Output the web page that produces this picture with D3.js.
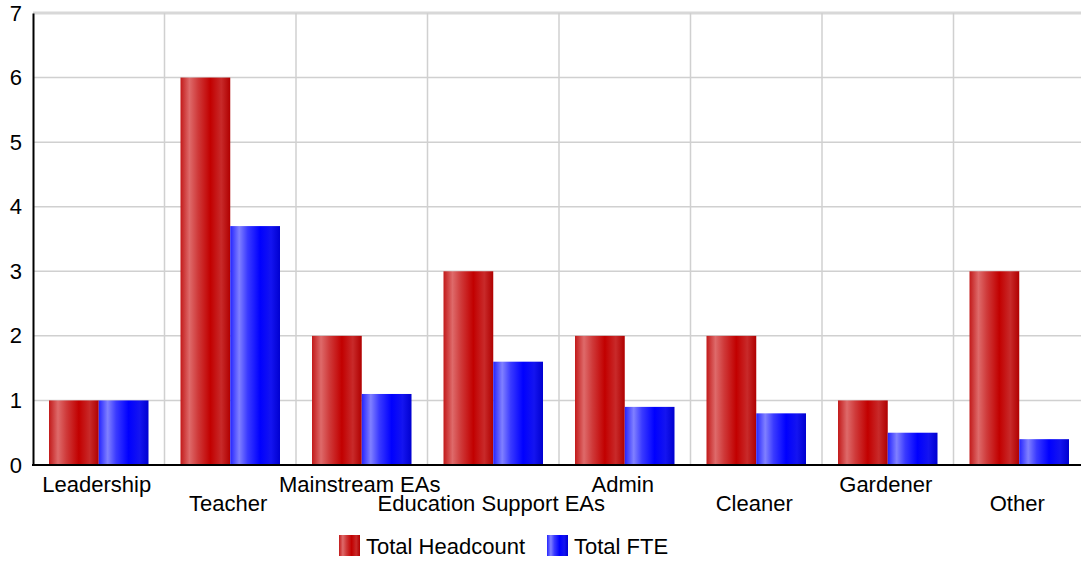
<!DOCTYPE html>
<html>
<head>
<meta charset="utf-8">
<script src="https://cdn.jsdelivr.net/npm/d3@7"></script>
<style>
  html, body { margin: 0; padding: 0; background: #fff; }
  svg { display: block; font-family: "Liberation Sans", Arial, sans-serif; }
</style>
</head>
<body>
<svg id="chart" width="1081" height="562"></svg>
<script>
// Staff roles and their counts
const categories = ["Leadership", "Teacher", "Mainstream EAs", "Education Support EAs", "Admin", "Cleaner", "Gardener", "Other"];
const headcount = [1, 6, 2, 3, 2, 2, 1, 3];
const fte = [1, 3.7, 1.1, 1.6, 0.9, 0.8, 0.5, 0.4];
const seriesNames = ["Total Headcount", "Total FTE"];
const yTicks = [0, 1, 2, 3, 4, 5, 6, 7];

const svg = d3.select("#chart");
const margin = { left: 33, top: 13 };
const W = 1081;
const plotRight = 1085;
const baseY = 465;
const fontSize = 22;

const x = d3.scaleBand().domain(categories).range([margin.left, plotRight]).paddingInner(0).paddingOuter(0);
const y = d3.scaleLinear().domain([0, 7]).range([baseY, margin.top]);

// Cylinder-style gradients
const defs = svg.append("defs");
function grad(id, stops) {
  const g = defs.append("linearGradient").attr("id", id).attr("x1", "0%").attr("x2", "100%").attr("y1", "0%").attr("y2", "0%");
  stops.forEach(([o, c]) => g.append("stop").attr("offset", o).attr("stop-color", c));
}
grad("gRed", [["0%", "#c21a1a"], ["18%", "#de6a6a"], ["35%", "#cf3a3a"], ["60%", "#c20000"], ["82%", "#c82a2a"], ["100%", "#b00000"]]);
grad("gBlue", [["0%", "#2424ff"], ["18%", "#8080ff"], ["35%", "#3a3aff"], ["60%", "#0000ff"], ["82%", "#1414f0"], ["100%", "#0000d0"]]);

// Horizontal gridlines
svg.append("g").selectAll("line").data(yTicks.filter(d => d > 0)).join("line")
  .attr("x1", margin.left).attr("x2", W)
  .attr("y1", d => y(d)).attr("y2", d => y(d))
  .attr("stroke", d => d === 7 ? "#d8d8d8" : "#d0d0d0")
  .attr("stroke-width", d => d === 7 ? 3 : 1.5);

// Vertical category separators
svg.append("g").selectAll("line").data(categories.slice(1)).join("line")
  .attr("x1", d => x(d)).attr("x2", d => x(d))
  .attr("y1", margin.top).attr("y2", baseY)
  .attr("stroke", "#d0d0d0").attr("stroke-width", 1.5);

// Bars
const groupPad = 16;
const barW = (x.bandwidth() - 2 * groupPad) / 2;
const rows = categories.map((c, i) => ({ c, vals: [headcount[i], fte[i]] }));
const fills = ["url(#gRed)", "url(#gBlue)"];
svg.append("g").selectAll("g").data(rows).join("g")
  .selectAll("rect").data(d => d.vals.map((v, k) => ({ c: d.c, v, k }))).join("rect")
  .attr("x", d => x(d.c) + groupPad + d.k * barW)
  .attr("width", barW)
  .attr("y", d => y(d.v))
  .attr("height", d => y(0) - y(d.v))
  .attr("fill", d => fills[d.k]);

// Axes
const yAxis = d3.axisLeft(y).tickValues(yTicks).tickSize(0).tickPadding(11).tickFormat(d3.format("d"));
const gy = svg.append("g").attr("transform", `translate(${margin.left},0)`).call(yAxis);
gy.select(".domain").attr("stroke", "#000").attr("stroke-width", 2);
gy.selectAll(".tick text").attr("font-size", fontSize).attr("fill", "#000").attr("font-family", "Liberation Sans, Arial, sans-serif");

svg.append("line").attr("x1", margin.left - 1).attr("x2", W).attr("y1", y(0)).attr("y2", y(0))
  .attr("stroke", "#000").attr("stroke-width", 2);

// Category labels, staggered on two rows
svg.append("g").selectAll("text").data(categories).join("text")
  .attr("x", d => x(d) + x.bandwidth() / 2 - 2)
  .attr("y", (d, i) => i % 2 === 0 ? 492 : 511)
  .attr("text-anchor", "middle")
  .attr("font-size", fontSize)
  .attr("fill", "#000")
  .text(d => d);

// Legend
const legend = svg.append("g");
const legendItems = [{ name: seriesNames[0], x: 339, fill: fills[0] }, { name: seriesNames[1], x: 547, fill: fills[1] }];
legendItems.forEach(it => {
  legend.append("rect").attr("x", it.x).attr("y", 535).attr("width", 21).attr("height", 21).attr("fill", it.fill);
  legend.append("text").attr("x", it.x + 27).attr("y", 554).attr("font-size", fontSize).attr("fill", "#000").text(it.name);
});
</script>
</body>
</html>
